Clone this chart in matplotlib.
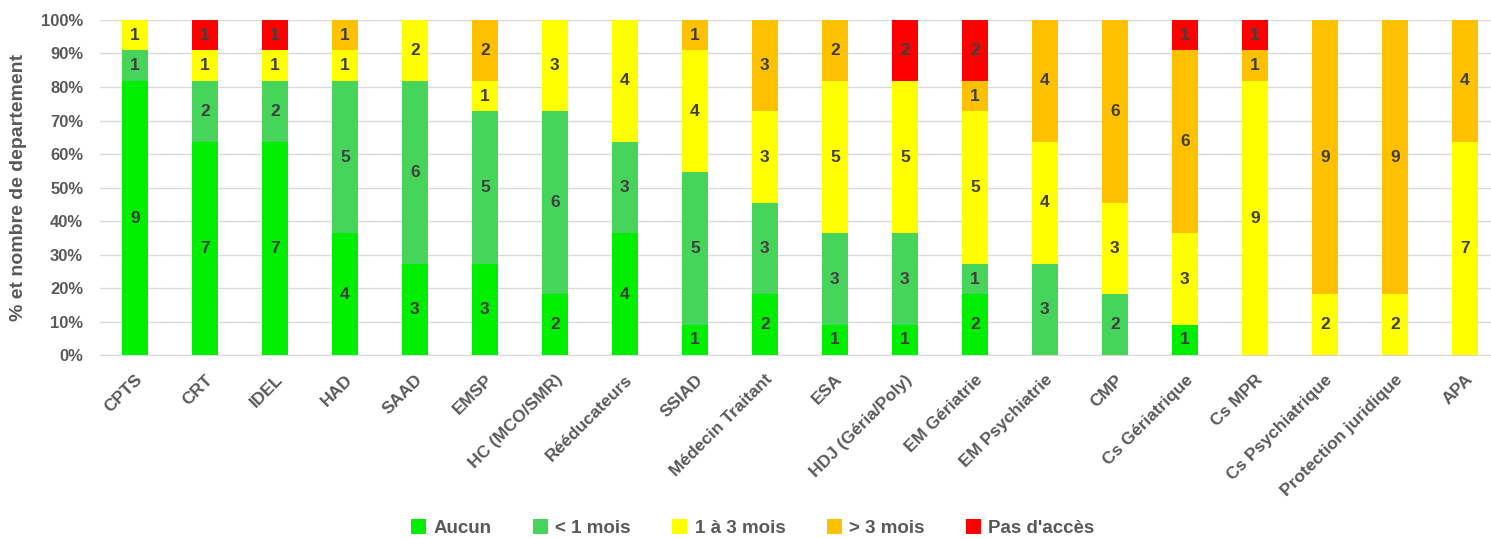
import numpy as np
import matplotlib
matplotlib.use("Agg")
import matplotlib.pyplot as plt
from matplotlib.ticker import PercentFormatter

plt.rcParams["font.family"] = ["Liberation Sans Narrow", "Liberation Sans", "DejaVu Sans"]

categories = ["CPTS", "CRT", "IDEL", "HAD", "SAAD", "EMSP", "HC (MCO/SMR)", "Rééducateurs",
              "SSIAD", "Médecin Traitant", "ESA", "HDJ (Géria/Poly)", "EM Gériatrie",
              "EM Psychiatrie", "CMP", "Cs Gériatrique", "Cs MPR", "Cs Psychiatrique",
              "Protection juridique", "APA"]

aucun       = [9, 7, 7, 4, 3, 3, 2, 4, 1, 2, 1, 1, 2, 0, 0, 1, 0, 0, 0, 0]
moins_1     = [1, 2, 2, 5, 6, 5, 6, 3, 5, 3, 3, 3, 1, 3, 2, 0, 0, 0, 0, 0]
un_a_trois  = [1, 1, 1, 1, 2, 1, 3, 4, 4, 3, 5, 5, 5, 4, 3, 3, 9, 2, 2, 7]
plus_3      = [0, 0, 0, 1, 0, 2, 0, 0, 1, 3, 2, 0, 1, 4, 6, 6, 1, 9, 9, 4]
pas_acces   = [0, 1, 1, 0, 0, 0, 0, 0, 0, 0, 0, 2, 2, 0, 0, 1, 1, 0, 0, 0]

series = [
    ("Aucun", aucun, "#00EE00"),
    ("< 1 mois", moins_1, "#47D45A"),
    ("1 à 3 mois", un_a_trois, "#FFFF00"),
    ("> 3 mois", plus_3, "#FFC000"),
    ("Pas d'accès", pas_acces, "#FF0000"),
]

counts = np.array([s[1] for s in series], dtype=float)
totals = counts.sum(axis=0)
shares = counts / totals * 100

text_grey = "#595959"
fig = plt.figure(figsize=(14.91, 5.39), dpi=100)
ax = fig.add_axes([0.067, 0.341, 0.939, 0.622])

x = np.arange(len(categories))
bottom = np.zeros(len(categories))
for (name, vals, color), pct in zip(series, shares):
    ax.bar(x, pct, bottom=bottom, width=0.38, color=color, label=name, zorder=3)
    for xi, b, p, v in zip(x, bottom, pct, vals):
        if v > 0:
            ax.text(xi, b + p / 2, str(v), ha="center", va="center",
                    fontsize=12.5, fontweight="bold", color="#404040", zorder=4)
    bottom += pct

ax.set_xlim(-0.5, len(categories) - 0.5)
ax.set_ylim(0, 100)
ax.set_yticks(np.arange(0, 101, 10))
ax.yaxis.set_major_formatter(PercentFormatter(decimals=0))
ax.grid(axis="y", color="#D9D9D9", lw=1, zorder=0)
for side in ["top", "right", "left"]:
    ax.spines[side].set_visible(False)
ax.spines["bottom"].set_color("#D9D9D9")
ax.tick_params(length=0)
ax.tick_params(axis="y", labelsize=12, labelcolor=text_grey, pad=12)
ax.set_xticks(x)
ax.set_xticklabels(categories, rotation=45, ha="right", rotation_mode="anchor",
                   fontsize=12.5, fontweight="bold", color=text_grey)
ax.tick_params(axis="x", pad=12)
for lbl in ax.get_yticklabels():
    lbl.set_fontweight("bold")
ax.set_ylabel("% et nombre de departement", fontsize=14, fontweight="bold",
              color=text_grey, labelpad=10)

fig.legend(*ax.get_legend_handles_labels(), loc="center", bbox_to_anchor=(0.505, 0.02),
           ncol=5, frameon=False, handlelength=0.8, handleheight=0.8, handletextpad=0.4,
           columnspacing=2.2, labelcolor=text_grey, prop={"weight": "bold", "size": 13.5})

fig.savefig("out.png", dpi=100)
